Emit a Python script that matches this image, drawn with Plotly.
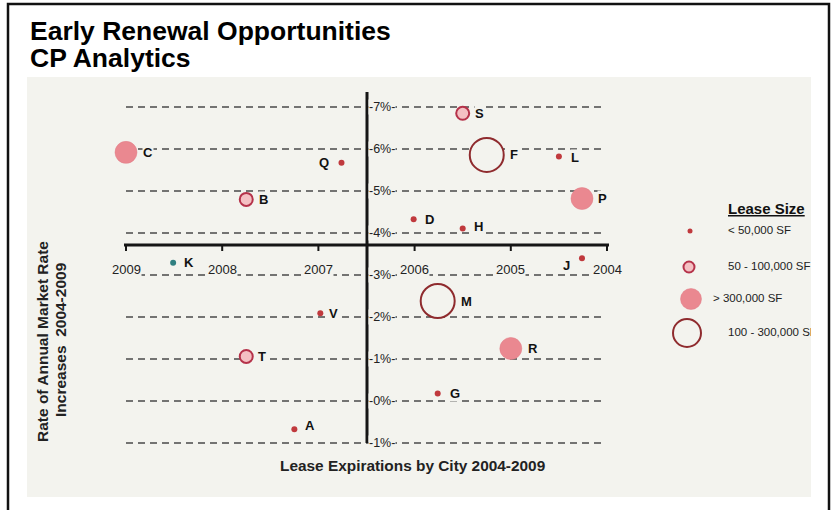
import plotly.graph_objects as go

# ---------------- data ----------------
names = ["C", "Q", "B", "D", "K", "S", "F", "L", "P", "H", "J", "M", "R", "G", "V", "T", "A"]
expiry_year = [2009.0, 2006.76, 2007.75, 2006.01, 2008.51, 2005.50, 2005.25, 2004.50, 2004.26,
               2005.50, 2004.26, 2005.76, 2005.00, 2005.76, 2006.98, 2007.75, 2007.25]
rate_increase = [5.92, 5.67, 4.80, 4.33, 3.29, 6.85, 5.86, 5.82, 4.82,
                 4.11, 3.40, 2.38, 1.25, 0.18, 2.09, 1.06, -0.67]
lease_class = [">300", "<50", "50-100", "<50", "other", "50-100", "100-300", "<50", ">300",
               "<50", "<50", "100-300", ">300", "<50", "<50", "50-100", "<50"]

year_ticks = [2009, 2008, 2007, 2006, 2005, 2004]
year_tick_labels = ["2009", "2008", "2007", "2006", "2005", "2004"]
rate_ticks = [7, 6, 5, 4, 3, 2, 1, 0, -1]
rate_tick_labels = ["-7%-", "-6%-", "-5%-", "-4%-", "-3%-", "-2%-", "-1%-", "-0%-", "-1%-"]

legend_classes = ["<50", "50-100", ">300", "100-300"]
legend_labels = ["< 50,000 SF", "50 - 100,000 SF", "> 300,000 SF", "100 - 300,000 SF"]

# ---------------- layout geometry (pixels) ----------------
W, H = 832, 510
PL, PR, PT, PB = 27, 811, 77, 497          # plot (scan) area
X0PX, XPERYR = 126.0, 96.2                  # 2009 at x=126px, 96.2 px per year (reversed)
Y7PX, YPERPCT = 107.0, 42.0                 # 7% at y=107px, 42 px per 1%

def px2x(px):
    return 2009 - (px - X0PX) / XPERYR

def px2y(py):
    return 7 - (py - Y7PX) / YPERPCT

def paper_x(px):
    return (px - PL) / (PR - PL)

def paper_y(py):
    return (PB - py) / (PB - PT)

BG = "#f3f3ee"
FONT = "Liberation Sans, Arial, sans-serif"

styles = {
    "<50":     dict(size=6,  color="#c0393d", line=dict(width=0, color="#c0393d")),
    "50-100":  dict(size=13, color="#f4c0c3", line=dict(width=2, color="#b5324a")),
    ">300":    dict(size=22, color="#ea8890", line=dict(width=0.5, color="#e07c86")),
    "100-300": dict(size=34, color=BG,        line=dict(width=2, color="#8f2b2e")),
    "other":   dict(size=6,  color="#2f7f80", line=dict(width=0, color="#2f7f80")),
}

fig = go.Figure()

# axis geometry
x_axis_y = px2y(245)
y_axis_x = px2x(367)
grid_x_end = px2x(603)

shapes = []
# dashed gridlines
for v in rate_ticks:
    shapes.append(dict(type="line", xref="x", yref="y", x0=year_ticks[0], x1=grid_x_end, y0=v, y1=v,
                       line=dict(color="#4a4a4a", width=1.3, dash="7px,5px"), layer="below"))
# main horizontal axis
shapes.append(dict(type="line", xref="x", yref="y", x0=px2x(124), x1=px2x(609), y0=x_axis_y, y1=x_axis_y,
                   line=dict(color="#151515", width=3), layer="below"))
# year ticks
for yv in year_ticks:
    shapes.append(dict(type="line", xref="x", yref="y", x0=yv, x1=yv, y0=x_axis_y, y1=px2y(251),
                       line=dict(color="#151515", width=2), layer="below"))
# vertical axis
shapes.append(dict(type="line", xref="x", yref="y", x0=y_axis_x, x1=y_axis_x, y0=px2y(92), y1=-1,
                   line=dict(color="#151515", width=3), layer="below"))
# outer frame
shapes.append(dict(type="rect", xref="paper", yref="paper",
                   x0=paper_x(8), x1=paper_x(829), y0=paper_y(515), y1=paper_y(4),
                   line=dict(color="#111111", width=2.5), fillcolor="rgba(0,0,0,0)", layer="above"))

# bubbles
for cls in ["100-300", ">300", "50-100", "<50", "other"]:
    idx = [i for i, c in enumerate(lease_class) if c == cls]
    if not idx:
        continue
    st = styles[cls]
    fig.add_trace(go.Scatter(
        x=[expiry_year[i] for i in idx], y=[rate_increase[i] for i in idx],
        mode="markers", marker=dict(symbol="circle", size=st["size"], color=st["color"], line=st["line"]),
        hoverinfo="skip", showlegend=False, cliponaxis=False))

# legend markers & labels (drawn inside plot so the last label is clipped at the scan edge)
leg_marker_px = [(690, 231), (689, 267), (691, 299), (687, 333)]
leg_text_px = [728, 728, 713, 728]
leg_marker_size = {"<50": 5, "50-100": 11, ">300": 21, "100-300": 28}
for k, cls in enumerate(legend_classes):
    st = styles[cls]
    fig.add_trace(go.Scatter(
        x=[px2x(leg_marker_px[k][0])], y=[px2y(leg_marker_px[k][1])], mode="markers",
        marker=dict(size=leg_marker_size[cls], color=st["color"] if cls != "100-300" else "rgba(0,0,0,0)",
                    line=st["line"]),
        hoverinfo="skip", showlegend=False))
fig.add_trace(go.Scatter(
    x=[px2x(p) for p in leg_text_px], y=[px2y(p[1]) for p in leg_marker_px],
    mode="text", text=legend_labels, textposition="middle right",
    textfont=dict(family=FONT, size=11.5, color="#222222"),
    marker=dict(size=0.1), hoverinfo="skip", showlegend=False, cliponaxis=True))

annotations = []
# point labels
label_offsets = {"C": (22, 0), "Q": (-17, 0), "B": (17, 0), "D": (16, 0), "K": (16, 0), "S": (17, 0),
                 "F": (27, 0), "L": (16, 1), "P": (21, 0), "H": (16, -2), "J": (-15, 7), "M": (29, 0),
                 "R": (22, 0), "G": (17, 0), "V": (13, 0), "T": (16, 0), "A": (16, -4)}
for n, xv, yv in zip(names, expiry_year, rate_increase):
    dx, dy = label_offsets[n]
    annotations.append(dict(x=xv, y=yv, xref="x", yref="y", text="<b>%s</b>" % n, showarrow=False,
                            xanchor="center", yanchor="middle",
                            xshift=dx, yshift=-dy, bgcolor=BG, borderpad=0,
                            font=dict(family=FONT, size=13, color="#111111")))
# percent labels
for v, t in zip(rate_ticks, rate_tick_labels):
    annotations.append(dict(x=px2x(368), y=v, xref="x", yref="y", text=t, showarrow=False,
                            xanchor="left", yanchor="middle", bgcolor=BG, borderpad=0,
                            font=dict(family=FONT, size=12.5, color="#222222")))
# year labels
for yv, t in zip(year_ticks, year_tick_labels):
    annotations.append(dict(x=yv, y=px2y(269), xref="x", yref="y", text=t, showarrow=False,
                            xanchor="center", yanchor="middle", bgcolor=BG, borderpad=0,
                            font=dict(family=FONT, size=13, color="#222222")))

def paper_text(px, py, text, size, color="#222222", angle=0, xanchor="center"):
    return dict(x=paper_x(px), y=paper_y(py), xref="paper", yref="paper", text=text,
                showarrow=False, xanchor=xanchor, yanchor="middle", textangle=angle,
                font=dict(family=FONT, size=size, color=color))

# legend title
annotations.append(paper_text(766, 208, "<b><u>Lease Size</u></b>", 15, "#111111"))
# axis titles
annotations.append(paper_text(412, 465, "<b>Lease Expirations by City 2004-2009</b>", 15.4))
annotations.append(paper_text(42, 342, "<b>Rate of Annual Market Rate</b>", 15.5, angle=-90))
annotations.append(paper_text(60, 340, "<b>Increases  2004-2009</b>", 15.5, angle=-90))
# page title
annotations.append(paper_text(28, 31, "<b>Early Renewal Opportunities</b>", 26.5, "#000000", xanchor="left"))
annotations.append(paper_text(28, 58, "<b>CP Analytics</b>", 26.5, "#000000", xanchor="left"))

fig.update_layout(
    width=W, height=H,
    margin=dict(l=PL, r=W - PR, t=PT, b=H - PB, pad=0),
    paper_bgcolor="white", plot_bgcolor=BG,
    xaxis=dict(range=[px2x(PL), px2x(PR)], visible=False, showgrid=False, zeroline=False, fixedrange=True),
    yaxis=dict(range=[px2y(PB), px2y(PT)], visible=False, showgrid=False, zeroline=False, fixedrange=True),
    shapes=shapes, annotations=annotations, showlegend=False,
)

fig.write_html("out.html")
